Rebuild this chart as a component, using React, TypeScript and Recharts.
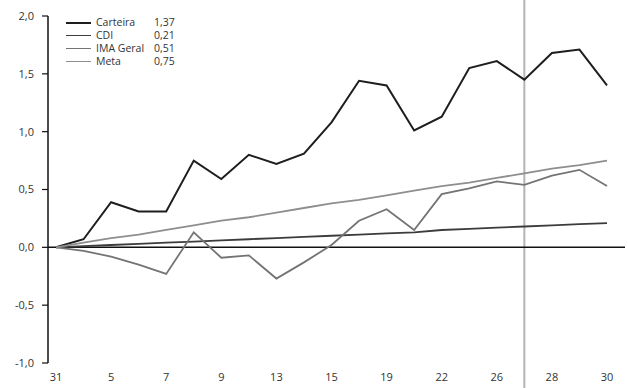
import { LineChart, Line, XAxis, YAxis, ReferenceLine } from "recharts"

const days = ["31", "4", "5", "6", "7", "8", "9", "12", "13", "14", "15", "18", "19", "20", "22", "25", "26", "27", "28", "29", "30"]
const carteira = [0, 0.07, 0.39, 0.31, 0.31, 0.75, 0.59, 0.8, 0.72, 0.81, 1.08, 1.44, 1.4, 1.01, 1.13, 1.55, 1.61, 1.45, 1.68, 1.71, 1.4]
const cdi = [0, 0.01, 0.02, 0.03, 0.04, 0.05, 0.06, 0.07, 0.08, 0.09, 0.1, 0.11, 0.12, 0.13, 0.15, 0.16, 0.17, 0.18, 0.19, 0.2, 0.21]
const imaGeral = [0, -0.03, -0.08, -0.15, -0.23, 0.13, -0.09, -0.07, -0.27, -0.13, 0.02, 0.23, 0.33, 0.15, 0.46, 0.51, 0.57, 0.54, 0.62, 0.67, 0.53]
const meta = [0, 0.04, 0.08, 0.11, 0.15, 0.19, 0.23, 0.26, 0.3, 0.34, 0.38, 0.41, 0.45, 0.49, 0.53, 0.56, 0.6, 0.64, 0.68, 0.71, 0.75]
const yTicks = [-1, -0.5, 0, 0.5, 1, 1.5, 2]

const series = [
  { key: "carteira", name: "Carteira", total: "1,37", color: "#1e1e1e", width: 2 },
  { key: "cdi", name: "CDI", total: "0,21", color: "#3c3c3c", width: 1.8 },
  { key: "ima", name: "IMA Geral", total: "0,51", color: "#747474", width: 1.8 },
  { key: "meta", name: "Meta", total: "0,75", color: "#8e8e8e", width: 1.8 },
]

const data = days.map((d, i) => ({
  day: d,
  carteira: carteira[i],
  cdi: cdi[i],
  ima: imaGeral[i],
  meta: meta[i],
}))

const fmt = (v: number) => v.toFixed(1).replace(".", ",")

// legend sits over the plot, top-left, so it is kept outside recharts' layout
function LegendBox() {
  return (
    <div
      style={{
        position: "absolute",
        left: 66,
        top: 16,
        fontFamily: "Open Sans",
        fontSize: 10.5,
        color: "#333",
        lineHeight: "13px",
      }}
    >
      {series.map((s) => (
        <div key={s.key} style={{ display: "flex", alignItems: "center" }}>
          <span style={{ display: "inline-block", width: 25, height: 0, borderTop: `${s.width}px solid ${s.color}`, marginRight: 5 }} />
          <span style={{ width: 58 }}>{s.name}</span>
          <span>{s.total}</span>
        </div>
      ))}
    </div>
  )
}

export default function App() {
  return (
    <div style={{ position: "absolute", left: 0, top: 0, width: 628, height: 388, background: "#fff" }}>
      <LineChart width={628} height={388} data={data} margin={{ top: 16, right: 3, bottom: 0, left: 0 }}>
        <XAxis
          dataKey="day"
          interval={1}
          axisLine={false}
          tickLine={false}
          tickSize={0}
          tickMargin={10}
          height={25}
          padding={{ left: 8, right: 18 }}
          tick={{ fontSize: 11, fill: "#333", fontFamily: "Open Sans" }}
        />
        <YAxis
          domain={[-1, 2]}
          ticks={yTicks}
          width={48}
          tickSize={6}
          tickMargin={8}
          tickFormatter={fmt}
          axisLine={{ stroke: "#111", strokeWidth: 1.5 }}
          tickLine={{ stroke: "#111", strokeWidth: 1.2 }}
          tick={{ fontSize: 11, fill: "#333", fontFamily: "Open Sans" }}
        />
        <ReferenceLine
          segment={[{ x: "27", y: 2.15 }, { x: "27", y: -1.22 }]}
          ifOverflow="visible"
          stroke="#b4b4b4"
          strokeWidth={2}
        />
        <ReferenceLine y={0} stroke="#111" strokeWidth={1.5} />
        {series.map((s) => (
          <Line
            key={s.key}
            type="linear"
            dataKey={s.key}
            name={s.name}
            stroke={s.color}
            strokeWidth={s.width}
            dot={false}
            isAnimationActive={false}
          />
        ))}
      </LineChart>
      <LegendBox />
    </div>
  )
}
